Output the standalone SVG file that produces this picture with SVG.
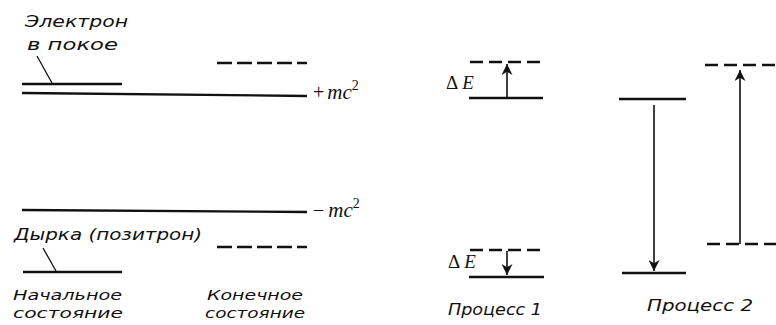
<svg xmlns="http://www.w3.org/2000/svg" width="776" height="325" viewBox="0 0 776 325">
<defs>
<style>
.lbl{font-family:"DejaVu Sans","Liberation Sans",sans-serif;font-style:oblique;font-size:16px;fill:#111}
.sm{font-size:14.5px}
.math{font-family:"Liberation Serif","DejaVu Serif",serif;font-style:italic;fill:#111}
.up{font-family:"Liberation Serif","DejaVu Serif",serif;fill:#111}
.lvl{stroke:#111;stroke-width:2.3;fill:none}
.dash{stroke:#111;stroke-width:2.3;fill:none;stroke-dasharray:13 6}
.ld{stroke:#111;stroke-width:1.3;fill:none}
.arr{stroke:#111;stroke-width:1.6;fill:none}
</style>
<marker id="ah" viewBox="0 0 10 10" refX="10" refY="5" markerWidth="11" markerHeight="11" markerUnits="userSpaceOnUse" orient="auto">
<path d="M0,0 L10,5 L0,10 L3,5 Z" fill="#111"/>
</marker>
</defs>

<g id="initial-state">
<text class="lbl" x="25" y="27" textLength="103" lengthAdjust="spacingAndGlyphs">Электрон</text>
<text class="lbl" x="27" y="50" textLength="91" lengthAdjust="spacingAndGlyphs">в покое</text>
<line class="lvl" x1="22" y1="84" x2="122" y2="84"/>
<text class="lbl" x="14" y="240" textLength="188" lengthAdjust="spacingAndGlyphs">Дырка (позитрон)</text>
<line class="lvl" x1="23" y1="272" x2="122" y2="272"/>
<text class="lbl sm" x="13" y="300" textLength="109" lengthAdjust="spacingAndGlyphs">Начальное</text>
<text class="lbl sm" x="13" y="318" textLength="110" lengthAdjust="spacingAndGlyphs">состояние</text>
</g>

<g id="levels">
<path class="lvl" d="M22,93 L307,96"/>
<text x="313" y="99"><tspan class="up" style="font-size:20px">+</tspan><tspan class="math" dx="3" style="font-size:21px">mc</tspan><tspan class="up" dy="-9" style="font-size:14px">2</tspan></text>
<path class="lvl" d="M22,210 L307,212"/>
<text x="313" y="217"><tspan class="up" style="font-size:20px">−</tspan><tspan class="math" dx="4" style="font-size:21px">mc</tspan><tspan class="up" dy="-9" style="font-size:14px">2</tspan></text>
</g>

<g id="final-state">
<line class="dash" x1="217" y1="63" x2="307" y2="63" style="stroke-dasharray:15 5"/>
<line class="dash" x1="217" y1="247" x2="307" y2="247" style="stroke-dasharray:15 5"/>
<text class="lbl sm" x="207" y="300" textLength="96" lengthAdjust="spacingAndGlyphs">Конечное</text>
<text class="lbl sm" x="205" y="318" textLength="100" lengthAdjust="spacingAndGlyphs">состояние</text>
</g>

<g id="process-1">
<text x="446" y="89"><tspan class="up" style="font-size:19px">Δ</tspan><tspan class="math" dx="4" style="font-size:19px">E</tspan></text>
<line class="dash" x1="470" y1="62" x2="541" y2="62"/>
<line class="lvl" x1="469" y1="98" x2="543" y2="98"/>
<text x="448" y="268"><tspan class="up" style="font-size:19px">Δ</tspan><tspan class="math" dx="4" style="font-size:19px">E</tspan></text>
<line class="dash" x1="470" y1="250" x2="543" y2="250"/>
<line class="lvl" x1="469" y1="277" x2="544" y2="277"/>
<text class="lbl" x="448" y="315" textLength="94" lengthAdjust="spacingAndGlyphs">Процесс 1</text>
</g>

<g id="process-2">
<line class="lvl" x1="619" y1="99" x2="686" y2="99"/>
<line class="lvl" x1="622" y1="273" x2="686" y2="273"/>
<line class="dash" x1="705" y1="65" x2="776" y2="65"/>
<line class="dash" x1="707" y1="244" x2="776" y2="244"/>
<text class="lbl" x="647" y="311" textLength="106" lengthAdjust="spacingAndGlyphs">Процесс 2</text>
</g>

<g id="connectors">
<line class="ld" x1="37" y1="56" x2="52" y2="83"/>
<line class="ld" x1="43" y1="248" x2="56" y2="271"/>
<line class="arr" x1="507" y1="98" x2="507" y2="64" marker-end="url(#ah)"/>
<line class="arr" x1="507" y1="251" x2="507" y2="275" marker-end="url(#ah)"/>
<line class="arr" x1="654" y1="105" x2="654" y2="271" marker-end="url(#ah)"/>
<line class="arr" x1="740" y1="244" x2="740" y2="70" marker-end="url(#ah)"/>
</g>
</svg>
